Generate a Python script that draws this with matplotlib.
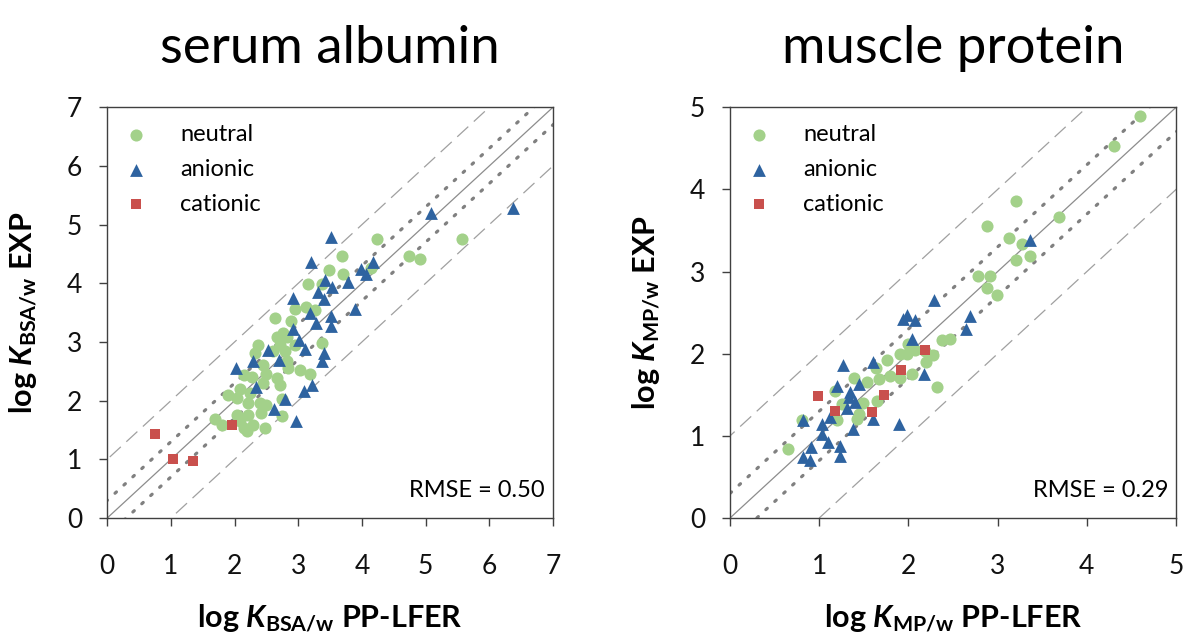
import numpy as np
import matplotlib
matplotlib.use("Agg")
import matplotlib.pyplot as plt

plt.rcParams['font.family'] = ['Lato', 'DejaVu Sans']
plt.rcParams['mathtext.fontset'] = 'custom'
plt.rcParams['mathtext.rm'] = 'Lato:bold'
plt.rcParams['mathtext.it'] = 'Lato:italic:bold'
plt.rcParams['mathtext.bf'] = 'Lato:bold'

# ---------------- serum albumin (BSA) ----------------
bsa_neutral_x = [4.24, 5.57, 4.74, 4.91, 3.69, 3.48, 3.70, 4.15, 3.16, 3.38,
                 2.95, 3.12, 3.26, 2.63, 2.88, 2.66, 2.82, 2.37, 2.32, 2.61,
                 2.79, 2.95, 3.38, 2.44, 2.82, 2.84, 3.02, 3.18, 2.14, 2.27,
                 2.49, 2.66, 2.71, 2.08, 1.90, 2.03, 2.24, 2.45, 2.21, 2.40,
                 2.50, 2.74, 2.03, 2.21, 2.42, 2.75, 1.69, 1.80, 2.08, 2.19,
                 2.29, 2.48, 2.14, 2.71, 2.76]
bsa_neutral_y = [4.76, 4.76, 4.46, 4.41, 4.46, 4.22, 4.16, 4.26, 3.98, 3.98,
                 3.56, 3.59, 3.54, 3.40, 3.35, 3.08, 3.09, 2.95, 2.81, 2.84,
                 2.84, 2.95, 2.98, 2.61, 2.67, 2.56, 2.53, 2.46, 2.44, 2.41,
                 2.46, 2.39, 2.27, 2.19, 2.10, 2.04, 2.13, 2.30, 1.96, 1.96,
                 1.93, 2.02, 1.76, 1.76, 1.79, 1.73, 1.69, 1.59, 1.65, 1.48,
                 1.59, 1.53, 1.53, 2.95, 3.15]
bsa_anionic_x = [5.08, 6.37, 3.51, 3.20, 4.18, 3.98, 4.06, 3.78, 3.42, 3.53,
                 3.31, 2.91, 3.41, 3.18, 3.28, 3.51, 3.51, 3.89, 2.92, 3.01,
                 3.10, 2.53, 2.29, 2.70, 3.41, 3.38, 2.02, 2.33, 3.21, 3.09,
                 2.79, 2.62, 2.97]
bsa_anionic_y = [5.20, 5.28, 4.79, 4.37, 4.37, 4.25, 4.15, 4.03, 4.06, 3.93,
                 3.86, 3.75, 3.73, 3.49, 3.33, 3.44, 3.28, 3.57, 3.22, 3.04,
                 2.88, 2.86, 2.68, 2.70, 2.82, 2.68, 2.55, 2.24, 2.27, 2.17,
                 2.02, 1.86, 1.66]
bsa_cationic_x = [0.75, 1.03, 1.34, 1.96]
bsa_cationic_y = [1.43, 1.01, 0.97, 1.58]

# ---------------- muscle protein (MP) ----------------
mp_neutral_x = [4.60, 4.30, 3.21, 3.69, 2.88, 3.13, 3.27, 3.36, 3.21, 2.78,
                2.91, 2.88, 2.99, 2.38, 2.47, 2.00, 1.98, 2.07, 2.28, 2.20,
                2.32, 2.04, 1.91, 1.79, 1.67, 1.76, 1.64, 1.53, 1.39, 1.18,
                1.25, 1.49, 1.65, 1.45, 1.42, 1.20, 0.81, 0.65, 2.19, 1.91]
mp_neutral_y = [4.89, 4.53, 3.86, 3.67, 3.55, 3.41, 3.34, 3.19, 3.14, 2.94,
                2.94, 2.80, 2.72, 2.17, 2.18, 2.12, 2.00, 2.04, 1.98, 1.90,
                1.60, 1.75, 1.71, 1.73, 1.69, 1.92, 1.83, 1.66, 1.70, 1.54,
                1.39, 1.40, 1.42, 1.27, 1.21, 1.19, 1.19, 0.84, 2.03, 2.00]
mp_anionic_x = [3.36, 2.29, 1.98, 1.94, 2.07, 2.69, 2.65, 2.04, 1.60, 1.27,
                1.20, 1.44, 1.35, 1.33, 1.40, 1.31, 2.17, 1.60, 1.89, 1.03,
                0.82, 1.12, 1.38, 1.03, 1.10, 0.91, 1.23, 0.82, 0.90, 1.23]
mp_anionic_y = [3.38, 2.65, 2.47, 2.42, 2.41, 2.46, 2.30, 2.18, 1.90, 1.86,
                1.61, 1.63, 1.53, 1.47, 1.41, 1.34, 1.75, 1.21, 1.15, 1.14,
                1.19, 1.23, 1.08, 1.02, 0.92, 0.86, 0.88, 0.74, 0.71, 0.75]
mp_cationic_x = [2.18, 1.92, 1.73, 0.99, 1.18, 1.59]
mp_cationic_y = [2.04, 1.80, 1.50, 1.48, 1.30, 1.29]

green = '#a3d18a'
blue = '#2e63a0'
red = '#c9504d'

fig = plt.figure(figsize=(11.84, 6.39), dpi=100)
ax1 = fig.add_axes([0.0906, 0.1894, 0.3764, 0.6427])
ax2 = fig.add_axes([0.6166, 0.1894, 0.3767, 0.6427])


def draw_panel(ax, lim, nx, ny, ax_, ay_, cx, cy, title, sub, rmse):
    xx = np.array([-1, lim + 1])
    ax.plot(xx, xx, color='#8c8c8c', lw=0.9, zorder=1)
    for off in (0.3, -0.3):
        ax.plot(xx, xx + off, color='#808080', lw=2.3, ls=(0, (0.6, 3.2)),
                dash_capstyle='round', zorder=1)
    for off in (1.0, -1.0):
        ax.plot(xx, xx + off, color='#a0a0a0', lw=0.9, ls=(0, (12, 6)), zorder=1)

    ax.scatter(nx, ny, s=76, marker='o', color=green, lw=0, zorder=3, label='neutral')
    ax.scatter(ax_, ay_, s=85, marker='^', color=blue, lw=0, zorder=4, label='anionic')
    ax.scatter(cx, cy, s=56, marker='s', color=red, lw=0, zorder=5, label='cationic')

    ax.set_xlim(0, lim)
    ax.set_ylim(0, lim)
    ax.set_xticks(range(lim + 1))
    ax.set_yticks(range(lim + 1))
    ax.tick_params(direction='out', length=6, width=1, color='#404040',
                   labelsize=19, labelcolor='#111111')
    ax.tick_params(axis='x', pad=20)
    ax.tick_params(axis='y', pad=12)
    for sp in ax.spines.values():
        sp.set_color('#404040')
        sp.set_linewidth(1)

    ax.set_xlabel(r'log $\mathit{K}_{\mathrm{%s}}$ PP-LFER' % sub,
                  fontsize=22, fontweight='bold', labelpad=17)
    ax.set_ylabel(r'log $\mathit{K}_{\mathrm{%s}}$ EXP' % sub,
                  fontsize=22, fontweight='bold', labelpad=20)
    ax.set_title(title, fontsize=38, pad=32)

    ax.legend(loc='upper left', frameon=False, fontsize=17, handlelength=1.0,
              handletextpad=1.38, labelspacing=0.58, borderaxespad=0.3,
              borderpad=0.42)
    ax.text(0.982, 0.05, 'RMSE = %s' % rmse, transform=ax.transAxes,
            ha='right', va='baseline', fontsize=17)


draw_panel(ax1, 7, bsa_neutral_x, bsa_neutral_y, bsa_anionic_x, bsa_anionic_y,
           bsa_cationic_x, bsa_cationic_y, 'serum albumin', 'BSA/w', '0.50')
draw_panel(ax2, 5, mp_neutral_x, mp_neutral_y, mp_anionic_x, mp_anionic_y,
           mp_cationic_x, mp_cationic_y, 'muscle protein', 'MP/w', '0.29')

fig.savefig('out.png', dpi=100)
